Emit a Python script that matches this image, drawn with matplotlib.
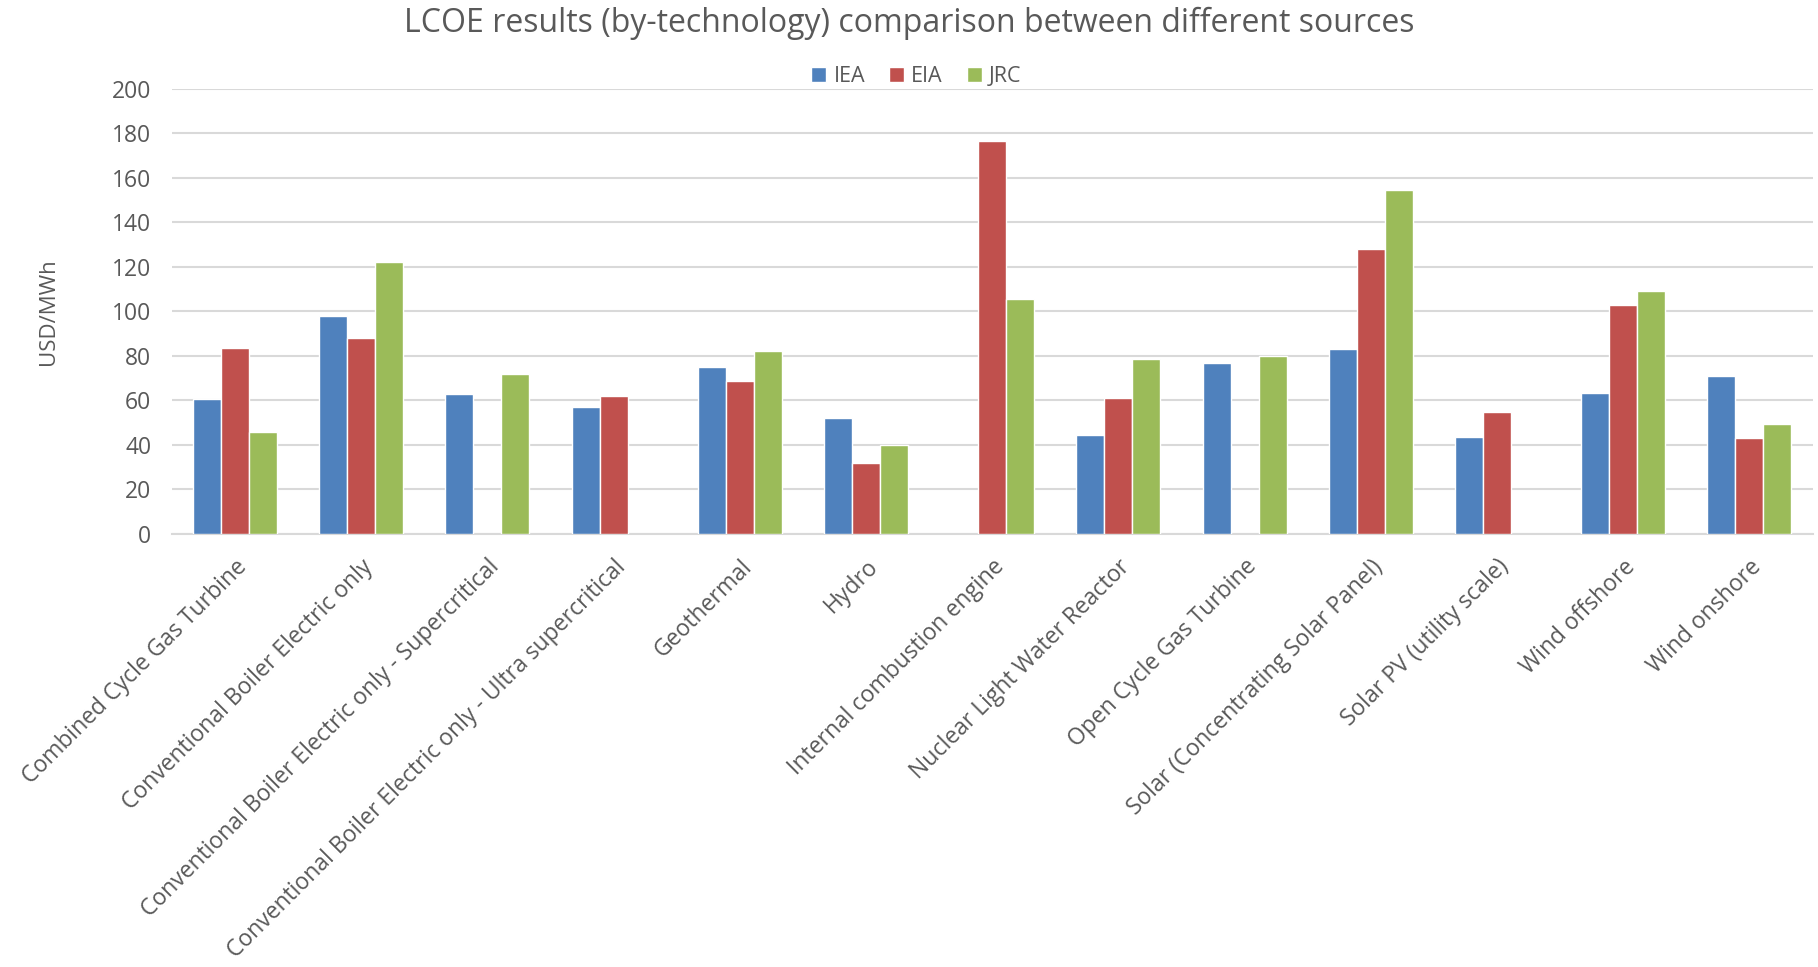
import numpy as np
import matplotlib.pyplot as plt

technologies = [
    "Combined Cycle Gas Turbine",
    "Conventional Boiler Electric only",
    "Conventional Boiler Electric only - Supercritical",
    "Conventional Boiler Electric only - Ultra supercritical",
    "Geothermal",
    "Hydro",
    "Internal combustion engine",
    "Nuclear Light Water Reactor",
    "Open Cycle Gas Turbine",
    "Solar (Concentrating Solar Panel)",
    "Solar PV (utility scale)",
    "Wind offshore",
    "Wind onshore",
]
iea = [60.5, 98.1, 63.1, 57.1, 74.9, 52.3, np.nan, 44.5, 76.9, 83.1, 43.4, 63.4, 70.9]
eia = [83.5, 88.2, np.nan, 62.0, 68.8, 31.9, 176.5, 61.0, np.nan, 128.1, 55.0, 102.9, 43.1]
jrc = [45.7, 122.4, 72.0, np.nan, 82.2, 40.0, 105.6, 78.7, 80.1, 154.6, np.nan, 109.2, 49.3]
sources = ["IEA", "EIA", "JRC"]
colors = ["#4F81BD", "#C0504D", "#9BBB59"]

text_grey = "#595959"
plt.rcParams["font.family"] = ["Open Sans", "DejaVu Sans"]

fig = plt.figure(figsize=(18.18, 9.67), dpi=100)
ax = fig.add_axes([0.0946, 0.4478, 0.9024, 0.4602])

x = np.arange(len(technologies))
width = 0.222
for i, (vals, name, c) in enumerate(zip([iea, eia, jrc], sources, colors)):
    ax.bar(x + (i - 1) * width, vals, width, color=c, edgecolor="white",
           linewidth=1, label=name, zorder=3)

ax.set_xlim(-0.5, len(technologies) - 0.5)
ax.set_ylim(0, 200)
ax.set_yticks(range(0, 201, 20))
ax.grid(axis="y", color="#d9d9d9", linewidth=1.5, zorder=0)
for s in ["top", "right", "left"]:
    ax.spines[s].set_visible(False)
ax.spines["bottom"].set_color("#d9d9d9")
ax.spines["bottom"].set_linewidth(1.5)
ax.tick_params(axis="both", length=0, labelsize=16.5, labelcolor=text_grey)
ax.tick_params(axis="y", pad=15)

ax.set_xticks(x)
ax.set_xticklabels(technologies, rotation=45, ha="right", va="top",
                   rotation_mode="anchor")
ax.tick_params(axis="x", pad=15)

ax.set_ylabel("USD/MWh", fontsize=16, color=text_grey, labelpad=38)

fig.suptitle("LCOE results (by-technology) comparison between different sources",
             fontsize=23, color=text_grey, y=0.993)
fig.legend(loc="center", bbox_to_anchor=(0.504, 0.921), ncol=3, frameon=False,
           fontsize=15.5, labelcolor=text_grey, handlelength=0.7, handleheight=0.7,
           handletextpad=0.35, columnspacing=1.1)

fig.savefig("out.png", dpi=100, facecolor="white")
